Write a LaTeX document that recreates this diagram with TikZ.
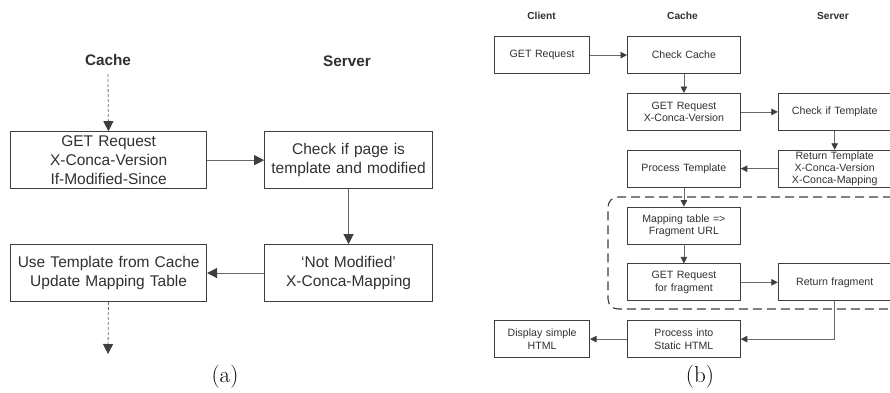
\documentclass[tikz,border=0pt]{standalone}
\usepackage{fontspec}
\setmainfont{Liberation Sans}
\newfontfamily\capfont{Latin Modern Roman}
\usetikzlibrary{positioning, matrix, arrows.meta}
\definecolor{boxline}{RGB}{62,62,62}
\definecolor{flowline}{RGB}{105,105,105}
\definecolor{ink}{RGB}{48,48,48}

\begin{document}
\begin{tikzpicture}[x=1pt, y=-1pt, text=ink,
    heada/.style={font=\fontsize{15.3}{18}\selectfont\bfseries},
    headb/.style={font=\fontsize{10.2}{12}\selectfont\bfseries},
    sub/.style={font=\capfont\fontsize{23}{28}\selectfont, text=black},
  ]
  \useasboundingbox (0,0) rectangle (890,392);

  % left: cache revalidation
  \matrix (ma) [
    matrix of nodes,
    anchor=north west,
    inner sep=0pt,
    nodes={draw=boxline, line width=0.9pt, align=center, inner sep=0pt,
      anchor=center, minimum height=57pt, font=\fontsize{15.5}{19}\selectfont},
    column 1/.style={nodes={text width=196pt}},
    column 2/.style={nodes={text width=168pt}},
    column sep=57pt,
    row sep=55pt,
  ] at (10,131) {
    {GET Request\\X-Conca-Version\\If-Modified-Since} & {Check if page is\\template and modified} \\
    {Use Template from Cache\\Update Mapping Table} & {`Not Modified'\\X-Conca-Mapping} \\
  };

  \node[heada] (hcachea) at (108,60) {Cache};
  \node[heada] (hservera) at (347,61) {Server};
  \coordinate (ain) at (108,74);
  \coordinate (aout) at (108,354);
  \node[sub] (capa) at (225,377) {(a)};

  \begin{scope}[
    draw=flowline,
    line width=1.1pt,
    >={Triangle[length=10pt, width=10pt, color=boxline]},
  ]
    \draw[->, dash pattern=on 3pt off 2pt, line width=0.8pt]
      (ain) -- (ma-1-1);
    \draw[->]
      (ma-1-1) -- (ma-1-2);
    \draw[->]
      (ma-1-2) -- (ma-2-2);
    \draw[->]
      (ma-2-2) -- (ma-2-1);
    \draw[->, dash pattern=on 3pt off 2pt, line width=0.8pt]
      (ma-2-1) -- (aout);
  \end{scope}

  % right: first request with fragments
  \matrix (mb) [
    matrix of nodes,
    anchor=north west,
    inner sep=0pt,
    nodes={draw=boxline, line width=0.8pt, align=center, inner sep=0pt,
      anchor=center, minimum height=37pt, text width=113pt,
      font=\fontsize{10.6}{12.3}\selectfont},
    column 1/.style={nodes={text width=95pt}},
    column sep=37pt,
    row sep=19pt,
  ] at (494,36) {
    GET Request & Check Cache & \\
    & {GET Request\\X-Conca-Version} & Check if Template \\
    & Process Template & {Return Template\\X-Conca-Version\\X-Conca-Mapping} \\
    & {Mapping table =>\\Fragment URL} & \\
    & {GET Request\\for fragment} & Return fragment \\
    {Display simple\\HTML} & {Process into\\Static HTML} & \\
  };

  \node[headb] (hclient) at (541.5,16) {Client};
  \node[headb] (hcacheb) at (682.5,16) {Cache};
  \node[headb] (hserverb) at (833,16) {Server};
  \node[sub] (capb) at (700,377) {(b)};

  % fragment loop
  \draw[boxline, line width=1.1pt, dash pattern=on 9pt off 5pt, rounded corners=10pt]
    (892,197) -| (608,309) -- (892,309);

  \begin{scope}[
    draw=flowline,
    line width=0.8pt,
    >={Triangle[length=6.5pt, width=6.5pt, color=boxline]},
  ]
    \draw[->]
      (mb-1-1) -- (mb-1-2);
    \draw[->]
      (mb-1-2) -- (mb-2-2);
    \draw[->]
      (mb-2-2) -- (mb-2-3);
    \draw[->]
      (mb-2-3) -- (mb-3-3);
    \draw[->]
      (mb-3-3) -- (mb-3-2);
    \draw[->]
      (mb-3-2) -- (mb-4-2);
    \draw[->]
      (mb-4-2) -- (mb-5-2);
    \draw[->]
      (mb-5-2) -- (mb-5-3);
    \draw[->]
      (mb-5-3) |- (mb-6-2);
    \draw[->]
      (mb-6-2) -- (mb-6-1);
  \end{scope}
\end{tikzpicture}
\end{document}
